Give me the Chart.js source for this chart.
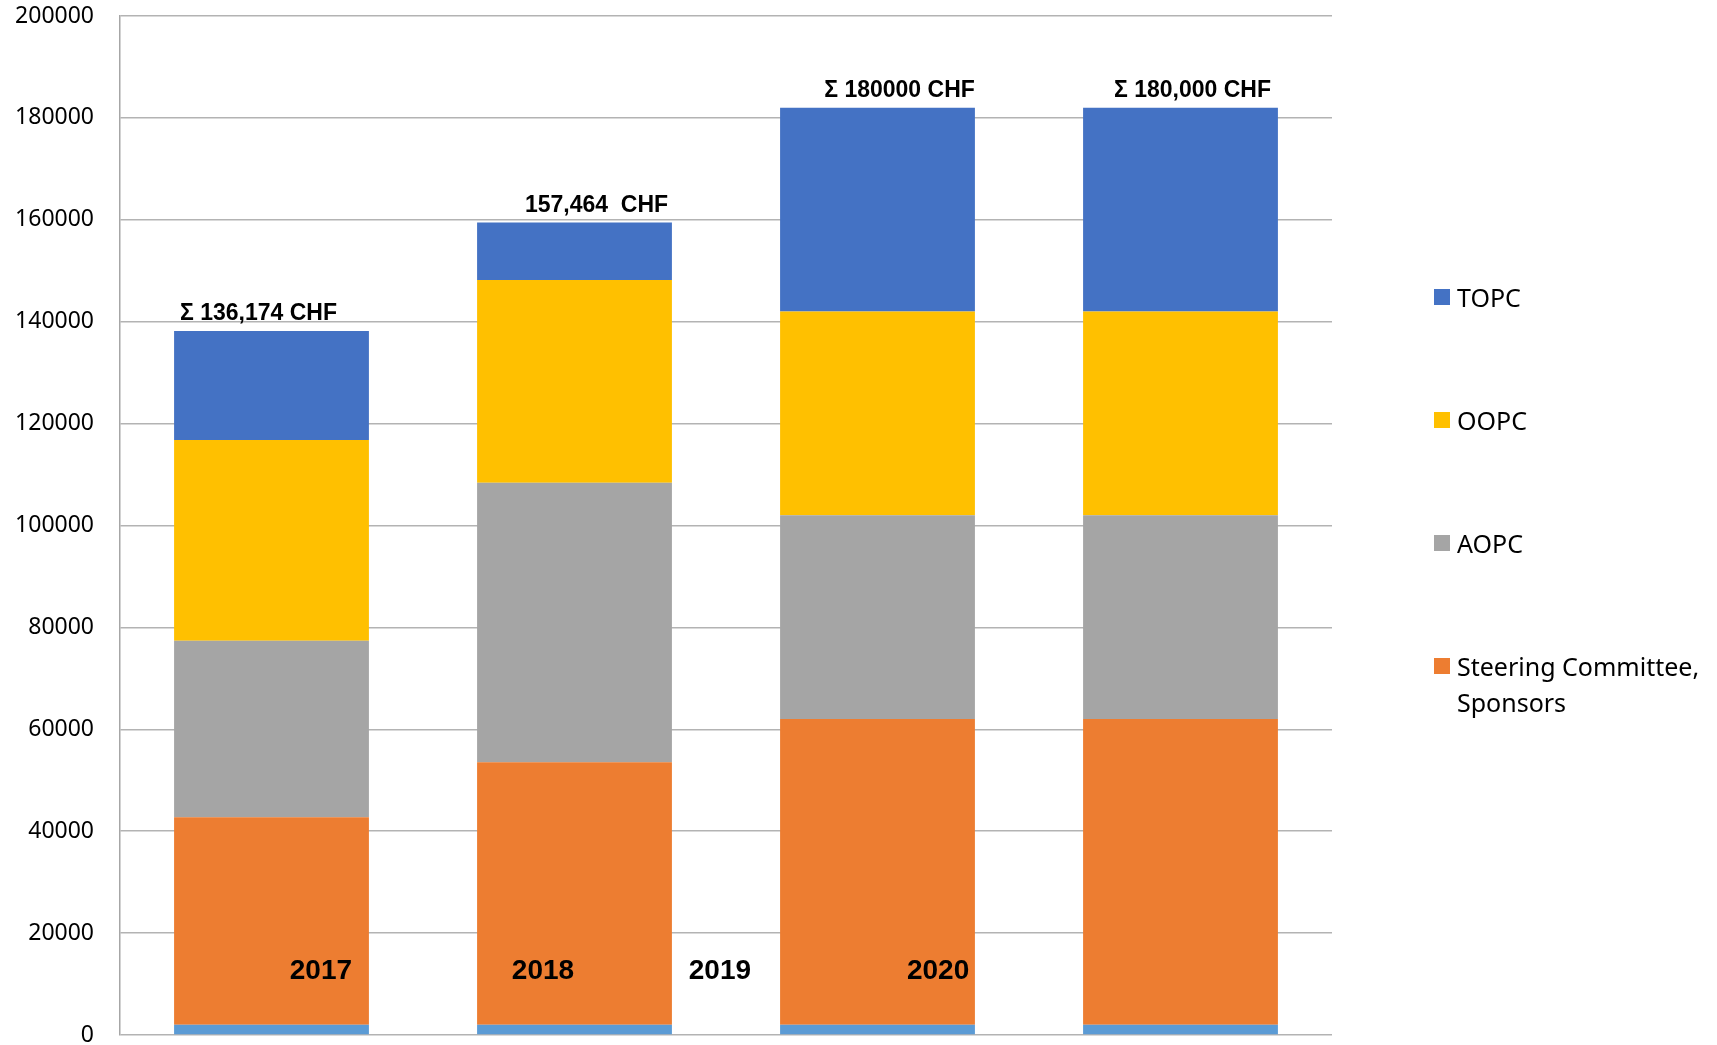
<!DOCTYPE html>
<html lang="en">
<head>
    <meta charset="UTF-8">
    <title>Budget per year</title>
    <style>
        body {
            margin: 0;
            padding: 0;
            background: #ffffff;
            overflow: hidden;
        }
        .wrap {
            position: relative;
            width: 1717px;
            height: 1045px;
        }
        #chart {
            position: absolute;
            left: 0;
            top: 0;
        }
        #legend {
            position: absolute;
            left: 1434px;
            top: 0;
            font-family: "Noto Sans", sans-serif;
            font-size: 25px;
            color: #000;
        }
        .item {
            position: absolute;
            left: 0;
            width: 290px;
        }
        .item span.box {
            position: absolute;
            left: 0;
            top: 10px;
            width: 16px;
            height: 16px;
        }
        .item span.txt {
            position: absolute;
            left: 23px;
            line-height: 36px;
            white-space: nowrap;
        }
    </style>
</head>
<body>
    <div class="wrap">
        <canvas id="chart" width="1717" height="1045"></canvas>
        <div id="legend"></div>
    </div>
    <script src="https://cdn.jsdelivr.net/npm/chart.js"></script>
    <script>
        // data
        const years = ['2017', '2018', '2019', '2020'];
        const base = [2000, 2000, 2000, 2000];
        const steering = [40730, 51520, 60000, 60000];
        const aopc = [34660, 54880, 40000, 40000];
        const oopc = [39390, 39780, 40000, 40000];
        const topc = [21394, 11284, 40000, 40000];
        const totalLabels = ['\u03A3 136,174 CHF', '157,464  CHF', '\u03A3 180000 CHF', '\u03A3 180,000 CHF'];
        const yTicks = [0, 20000, 40000, 60000, 80000, 100000, 120000, 140000, 160000, 180000, 200000];

        // where the text bits sit (style only)
        const totalShift = [-13, 22, 22, 12];
        const yearPos = [0.163, 0.896, 1.48, 2.2];

        const series = [
            { label: 'Steering Committee, Sponsors', data: steering, color: '#ED7D31' },
            { label: 'AOPC', data: aopc, color: '#A5A5A5' },
            { label: 'OOPC', data: oopc, color: '#FFC000' },
            { label: 'TOPC', data: topc, color: '#4472C4' }
        ];

        const datasets = [{ label: 'base', data: base, backgroundColor: '#5B9BD5' }];
        series.forEach(s => datasets.push({ label: s.label, data: s.data, backgroundColor: s.color }));

        const textPlugin = {
            id: 'texts',
            afterDatasetsDraw(chart) {
                const ctx = chart.ctx;
                const x = chart.scales.x;
                const y = chart.scales.y;
                const step = x.getPixelForValue(1) - x.getPixelForValue(0);
                ctx.save();
                ctx.fillStyle = '#000';
                ctx.textAlign = 'center';
                ctx.textBaseline = 'middle';

                ctx.font = 'bold 23px "Liberation Sans", Arial, sans-serif';
                years.forEach((yr, i) => {
                    let sum = 0;
                    datasets.forEach(d => sum += d.data[i]);
                    ctx.fillText(totalLabels[i], x.getPixelForValue(i) + totalShift[i], y.getPixelForValue(sum) - 17);
                });

                ctx.font = 'bold 28px "Liberation Sans", Arial, sans-serif';
                years.forEach((yr, i) => {
                    ctx.fillText(yr, x.getPixelForValue(0) + yearPos[i] * step, y.getPixelForValue(0) - 64);
                });
                ctx.restore();
            }
        };

        new Chart(document.getElementById('chart'), {
            type: 'bar',
            data: { labels: years, datasets: datasets },
            options: {
                responsive: false,
                animation: false,
                devicePixelRatio: 1,
                layout: { padding: { top: 16, right: 385, bottom: 10, left: 0 } },
                datasets: {
                    bar: { categoryPercentage: 1, barPercentage: 0.643, borderWidth: 0 }
                },
                plugins: {
                    legend: { display: false },
                    tooltip: { enabled: false }
                },
                scales: {
                    x: {
                        stacked: true,
                        display: false
                    },
                    y: {
                        stacked: true,
                        min: 0,
                        max: 200000,
                        afterFit(axis) {
                            axis.width = 120;
                            axis.paddingTop = 0;
                            axis.paddingBottom = 0;
                        },
                        afterBuildTicks(axis) { axis.ticks = yTicks.map(v => ({ value: v })); },
                        border: { display: true, color: '#a6a6a6', width: 1.5 },
                        grid: { color: '#b3b3b3', lineWidth: 1.5, drawTicks: false },
                        ticks: {
                            padding: 26,
                            color: '#000',
                            font: { family: '"Noto Sans", sans-serif', size: 23 },
                            callback: v => String(v)
                        }
                    }
                }
            },
            plugins: [textPlugin]
        });

        // legend on the right, top item first
        const legend = document.getElementById('legend');
        const tops = [279, 402, 525, 648];
        series.slice().reverse().forEach((s, i) => {
            const div = document.createElement('div');
            div.className = 'item';
            div.style.top = tops[i] + 'px';
            const words = s.label.split(', ');
            const text = words.length > 1 ? words[0] + ',<br>' + words[1] : s.label;
            div.innerHTML = '<span class="box" style="background:' + s.color + '"></span><span class="txt">' + text + '</span>';
            legend.appendChild(div);
        });
    </script>
</body>
</html>
